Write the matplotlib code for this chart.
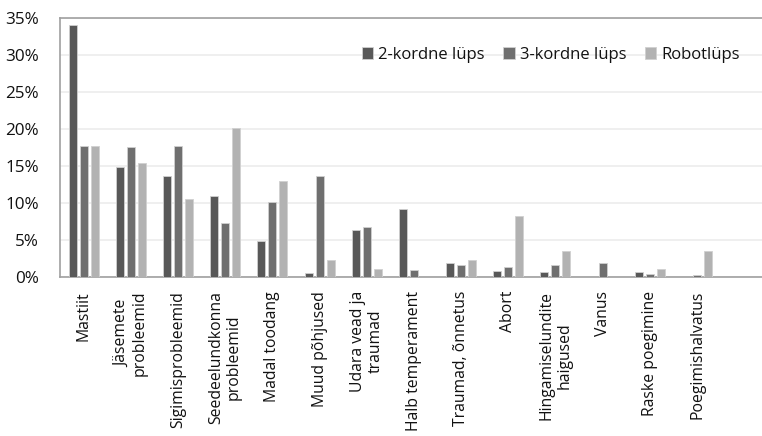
import matplotlib
matplotlib.use("Agg")
import matplotlib.pyplot as plt
import numpy as np

categories = [
    "Mastiit", "Jäsemete\nprobleemid", "Sigimisprobleemid", "Seedeelundkonna\nprobleemid",
    "Madal toodang", "Muud põhjused", "Udara vead ja\ntraumad", "Halb temperament",
    "Traumad, õnnetus", "Abort", "Hingamiselundite\nhaigused", "Vanus",
    "Raske poegimine", "Poegimishalvatus",
]
series_names = ["2-kordne lüps", "3-kordne lüps", "Robotlüps"]
two_times = [34.1, 14.8, 13.7, 11.0, 4.8, 0.6, 6.4, 9.2, 1.85, 0.85, 0.7, 0.0, 0.7, 0.0]
three_times = [17.7, 17.5, 17.7, 7.3, 10.1, 13.6, 6.7, 0.95, 1.6, 1.3, 1.6, 1.9, 0.4, 0.3]
robot = [17.7, 15.4, 10.6, 20.1, 13.0, 2.3, 1.1, 0.0, 2.3, 8.2, 3.55, 0.0, 1.1, 3.55]
yticks = [0, 5, 10, 15, 20, 25, 30, 35]

colors = ["#585858", "#6f6f6f", "#b2b2b2"]
font = ["Open Sans", "DejaVu Sans"]
plt.rcParams["font.family"] = font

fig = plt.figure(figsize=(7.62, 4.36), dpi=100)
ax = fig.add_axes([60 / 762, (436 - 277) / 436, 1.02 - 60 / 762, (277 - 18) / 436])

x = np.arange(len(categories))
width = 0.17
pitch = 0.233
for i, (vals, name, c) in enumerate(zip([two_times, three_times, robot], series_names, colors)):
    ax.bar(x + (i - 1) * pitch, vals, width, color=c, label=name,
           edgecolor="#d0d0d0", linewidth=0.6, zorder=3)

ax.set_xlim(-0.5, 14.7)
ax.set_ylim(0, 35)
ax.set_yticks(yticks)
ax.set_yticklabels([f"{t}%" for t in yticks], fontsize=12.3, color="#111111")
ax.yaxis.grid(True, color="#ececec", linewidth=1.2, zorder=0)
ax.set_axisbelow(True)

ax.set_xticks(x)
ax.set_xticklabels(categories, rotation=90, fontsize=11.3, color="#111111",
                   multialignment="center", va="top", ha="center",
                   linespacing=1.15)
ax.tick_params(axis="both", length=0)
ax.tick_params(axis="y", pad=15)
ax.tick_params(axis="x", pad=10)

for s in ["left", "top", "bottom", "right"]:
    ax.spines[s].set_color("#a0a0a0")
    ax.spines[s].set_linewidth(1.2)

leg = ax.legend(loc="upper right", bbox_to_anchor=(0.957, 0.915), ncol=3, frameon=False,
                fontsize=12, handlelength=0.7, handleheight=0.7, handletextpad=0.3,
                columnspacing=1.1, borderaxespad=0)
for t in leg.get_texts():
    t.set_color("#111111")

fig.savefig("out.png", dpi=100)
